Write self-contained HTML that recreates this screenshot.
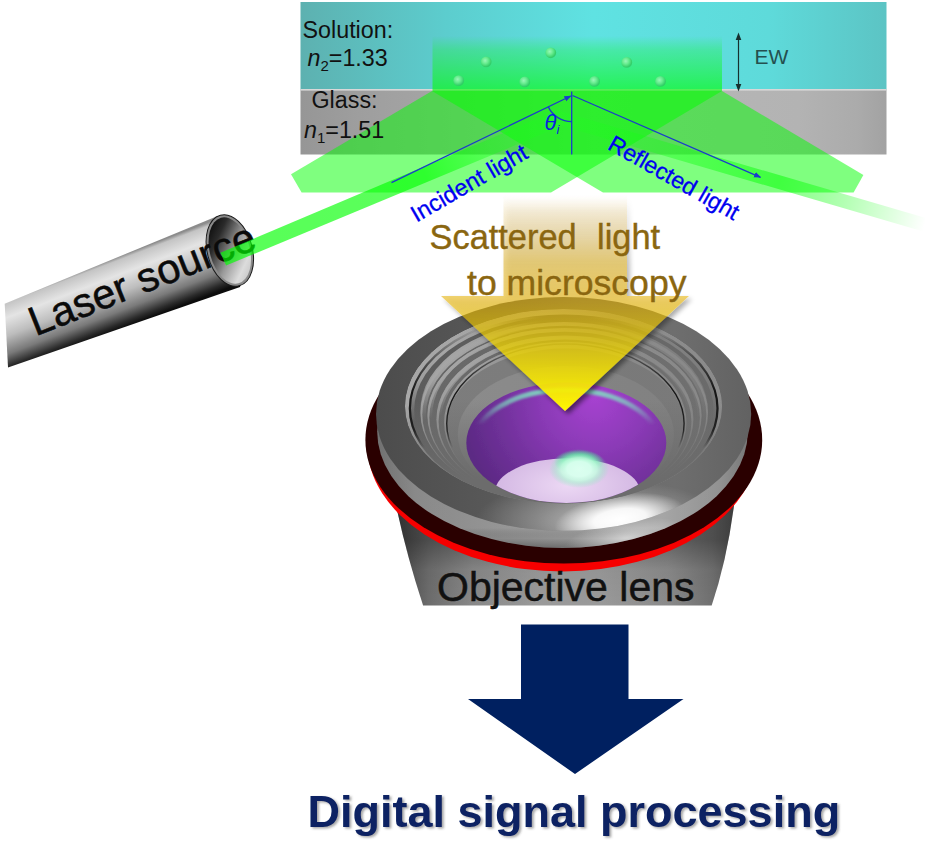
<!DOCTYPE html>
<html><head><meta charset="utf-8"><title>TIRF scattering microscopy schematic</title>
<style>
html,body{margin:0;padding:0;background:#fff;}
body{width:925px;height:841px;overflow:hidden;}
svg{display:block;}
text{font-family:"Liberation Sans",Arial,sans-serif;}
</style></head><body>
<svg width="925" height="841" viewBox="0 0 925 841">
<defs>
<linearGradient id="gSol" x1="0" x2="1" y1="0" y2="0">
<stop offset="0" stop-color="#5db1b0"/><stop offset=".25" stop-color="#5ccdce"/><stop offset=".5" stop-color="#5fe2e2"/><stop offset=".8" stop-color="#5edada"/><stop offset="1" stop-color="#5cc4c4"/>
</linearGradient>
<linearGradient id="gGlass" x1="0" x2="1" y1="0" y2="0">
<stop offset="0" stop-color="#969696"/><stop offset=".1" stop-color="#9e9e9e"/><stop offset=".3" stop-color="#a8a8a8"/><stop offset=".5" stop-color="#b8b8b8"/><stop offset=".85" stop-color="#b3b3b3"/><stop offset=".95" stop-color="#ababab"/><stop offset="1" stop-color="#a2a2a2"/>
</linearGradient>
<linearGradient id="gEW" x1="0" x2="0" y1="0" y2="1">
<stop offset="0" stop-color="#00ff00" stop-opacity="0"/><stop offset=".25" stop-color="#00ff00" stop-opacity=".25"/><stop offset="1" stop-color="#00ff00" stop-opacity=".62"/>
</linearGradient>
<linearGradient id="gInc" gradientUnits="userSpaceOnUse" x1="221" y1="259" x2="560" y2="118">
<stop offset="0" stop-color="#00ff00" stop-opacity=".66"/><stop offset=".6" stop-color="#00ff00" stop-opacity=".64"/><stop offset=".78" stop-color="#10ff10" stop-opacity=".38"/><stop offset="1" stop-color="#20ff20" stop-opacity=".25"/>
</linearGradient>
<linearGradient id="gRefl" gradientUnits="userSpaceOnUse" x1="560" y1="118" x2="925" y2="224.500">
<stop offset="0" stop-color="#20ff20" stop-opacity=".25"/><stop offset=".3" stop-color="#10ff10" stop-opacity=".38"/><stop offset=".6" stop-color="#00ff00" stop-opacity=".5"/><stop offset=".78" stop-color="#00ff00" stop-opacity=".3"/><stop offset="1" stop-color="#00ff00" stop-opacity="0"/>
</linearGradient>
<linearGradient id="gArrow" gradientUnits="userSpaceOnUse" x1="0" y1="195" x2="0" y2="411">
<stop offset="0" stop-color="#ce9400" stop-opacity="0"/><stop offset=".023" stop-color="#ce9400" stop-opacity=".03"/><stop offset=".079" stop-color="#ce9400" stop-opacity=".13"/><stop offset=".194" stop-color="#cb9600" stop-opacity=".275"/><stop offset=".31" stop-color="#d5a200" stop-opacity=".47"/><stop offset=".486" stop-color="#e5b000" stop-opacity=".57"/><stop offset=".67" stop-color="#ebcd00" stop-opacity=".72"/><stop offset=".856" stop-color="#f6e600" stop-opacity=".9"/><stop offset="1" stop-color="#fffa00" stop-opacity="1"/>
</linearGradient>
<!-- laser cylinder -->
<linearGradient id="gCyl" gradientUnits="userSpaceOnUse" x1="120" y1="256" x2="144.500" y2="320">
<stop offset="0" stop-color="#8c8c8c"/><stop offset=".05" stop-color="#c4c4c4"/><stop offset=".25" stop-color="#e4e4e4"/><stop offset=".5" stop-color="#bdbdbd"/><stop offset=".75" stop-color="#7a7a7a"/><stop offset=".92" stop-color="#2a2a2a"/><stop offset="1" stop-color="#0c0c0c"/>
</linearGradient>
<linearGradient id="gCylIn" x1=".15" y1="0" x2=".85" y2="1">
<stop offset="0" stop-color="#050505"/><stop offset=".25" stop-color="#2a2a2a"/><stop offset=".55" stop-color="#9a9a9a"/><stop offset=".8" stop-color="#dcdcdc"/><stop offset="1" stop-color="#c0c0c0"/>
</linearGradient>
<!-- lens -->
<linearGradient id="gBody" gradientUnits="userSpaceOnUse" x1="398" y1="0" x2="736" y2="0">
<stop offset="0" stop-color="#484848"/><stop offset=".09" stop-color="#6c6c6c"/><stop offset=".22" stop-color="#888888"/><stop offset=".42" stop-color="#9a9a9a"/><stop offset=".6" stop-color="#9a9a9a"/><stop offset=".8" stop-color="#8a8a8a"/><stop offset=".93" stop-color="#707070"/><stop offset="1" stop-color="#555555"/>
</linearGradient>
<linearGradient id="gBodyV" gradientUnits="userSpaceOnUse" x1="0" y1="540" x2="0" y2="606">
<stop offset="0" stop-color="#000" stop-opacity=".3"/><stop offset=".45" stop-color="#000" stop-opacity=".04"/><stop offset="1" stop-color="#000" stop-opacity=".0"/>
</linearGradient>
<linearGradient id="gSide" gradientUnits="userSpaceOnUse" x1="368" y1="0" x2="760" y2="0">
<stop offset="0" stop-color="#5a5a5a"/><stop offset=".12" stop-color="#7c7c7c"/><stop offset=".35" stop-color="#8a8a8a"/><stop offset=".55" stop-color="#969696"/><stop offset=".75" stop-color="#9c9c9c"/><stop offset=".9" stop-color="#858585"/><stop offset="1" stop-color="#5c5c5c"/>
</linearGradient>
<linearGradient id="gSideV" gradientUnits="userSpaceOnUse" x1="0" y1="528" x2="0" y2="549">
<stop offset="0" stop-color="#fff" stop-opacity=".1"/><stop offset=".5" stop-color="#000" stop-opacity="0"/><stop offset="1" stop-color="#000" stop-opacity=".28"/>
</linearGradient>
<radialGradient id="gSpec"><stop offset="0" stop-color="#fff" stop-opacity="1"/><stop offset=".4" stop-color="#fff" stop-opacity=".92"/><stop offset=".7" stop-color="#fff" stop-opacity=".45"/><stop offset="1" stop-color="#fff" stop-opacity="0"/></radialGradient>
<linearGradient id="gTop" gradientUnits="userSpaceOnUse" x1="377" y1="0" x2="750" y2="0">
<stop offset="0" stop-color="#4c4c4c"/><stop offset=".3" stop-color="#585858"/><stop offset=".55" stop-color="#6a6a6a"/><stop offset=".8" stop-color="#6e6e6e"/><stop offset="1" stop-color="#626262"/>
</linearGradient>
<linearGradient id="gBowlShade" gradientUnits="userSpaceOnUse" x1="405" y1="0" x2="722" y2="0">
<stop offset="0" stop-color="#707070" stop-opacity="0"/><stop offset=".45" stop-color="#707070" stop-opacity=".1"/><stop offset=".65" stop-color="#747474" stop-opacity=".4"/><stop offset="1" stop-color="#787878" stop-opacity=".55"/>
</linearGradient>
<linearGradient id="gBowlShadeV" gradientUnits="userSpaceOnUse" x1="0" y1="400" x2="0" y2="480">
<stop offset="0" stop-color="#6c6c6c" stop-opacity="0"/><stop offset="1" stop-color="#6c6c6c" stop-opacity="1"/>
</linearGradient>
<radialGradient id="gPurple" gradientUnits="userSpaceOnUse" cx="595" cy="398" r="135">
<stop offset="0" stop-color="#a642d0"/><stop offset=".4" stop-color="#8a3ab6"/><stop offset=".75" stop-color="#6e3098"/><stop offset="1" stop-color="#5c2a84"/>
</radialGradient>
<linearGradient id="gMint" gradientUnits="userSpaceOnUse" x1="0" y1="384" x2="0" y2="425">
<stop offset="0" stop-color="#7ee8c0" stop-opacity=".95"/><stop offset=".5" stop-color="#7ee8c0" stop-opacity=".6"/><stop offset="1" stop-color="#7ee8c0" stop-opacity="0"/>
</linearGradient>
<radialGradient id="gDiagL" gradientUnits="userSpaceOnUse" cx="0" cy="0" r="1" gradientTransform="translate(450 347) rotate(-34) scale(105 58)">
<stop offset="0" stop-color="#a8a8a8" stop-opacity="1"/><stop offset=".45" stop-color="#a6a6a6" stop-opacity=".9"/><stop offset="1" stop-color="#a0a0a0" stop-opacity="0"/>
</radialGradient>
<radialGradient id="gDiagR" gradientUnits="userSpaceOnUse" cx="0" cy="0" r="1" gradientTransform="translate(678 347) rotate(34) scale(105 58)">
<stop offset="0" stop-color="#9a9a9a" stop-opacity=".75"/><stop offset=".45" stop-color="#989898" stop-opacity=".6"/><stop offset="1" stop-color="#949494" stop-opacity="0"/>
</radialGradient>
<linearGradient id="gLine" gradientUnits="userSpaceOnUse" x1="0" y1="325" x2="0" y2="448">
<stop offset="0" stop-color="#101010" stop-opacity="0"/><stop offset=".3" stop-color="#101010" stop-opacity=".55"/><stop offset=".55" stop-color="#101010" stop-opacity=".95"/><stop offset=".85" stop-color="#101010" stop-opacity=".8"/><stop offset="1" stop-color="#101010" stop-opacity="0"/>
</linearGradient>
<radialGradient id="gPale" cx=".5" cy=".4" r=".6">
<stop offset="0" stop-color="#ecd8f4"/><stop offset="1" stop-color="#cfb2e0"/>
</radialGradient>
<radialGradient id="gHalo"><stop offset="0" stop-color="#40e890" stop-opacity=".9"/><stop offset=".6" stop-color="#40e890" stop-opacity=".7"/><stop offset="1" stop-color="#40e890" stop-opacity="0"/></radialGradient>
<radialGradient id="gGlare">
<stop offset="0" stop-color="#dcfff0"/><stop offset=".4" stop-color="#d8ffee" stop-opacity=".97"/><stop offset=".6" stop-color="#c4fde0" stop-opacity=".8"/><stop offset=".8" stop-color="#90f4c0" stop-opacity=".35"/><stop offset="1" stop-color="#70f0b0" stop-opacity="0"/>
</radialGradient>
<radialGradient id="gBead" cx=".4" cy=".38" r=".65">
<stop offset="0" stop-color="#9af7b8"/><stop offset=".45" stop-color="#66ec8e"/><stop offset=".85" stop-color="#36d06a"/><stop offset="1" stop-color="#2cc060" stop-opacity=".6"/>
</radialGradient>
<clipPath id="cWall"><ellipse cx="562.5" cy="431.5" rx="185.3" ry="116.4" /></clipPath>
<clipPath id="cBowl"><ellipse cx="563.5" cy="406.2" rx="158.5" ry="97.2" /></clipPath>
<clipPath id="cTop"><ellipse cx="563.600" cy="413.900" rx="187.600" ry="116.900"/></clipPath>
<clipPath id="cPurple"><ellipse cx="566.300" cy="442.800" rx="100" ry="60.200"/></clipPath>
<filter id="fSoft" x="-5%" y="-5%" width="110%" height="110%"><feGaussianBlur stdDeviation=".7"/></filter>
<filter id="fBlur2" x="-10%" y="-10%" width="120%" height="120%"><feGaussianBlur stdDeviation="1.300"/></filter>
<radialGradient id="gSpecB"><stop offset="0" stop-color="#fff" stop-opacity=".55"/><stop offset=".5" stop-color="#fff" stop-opacity=".25"/><stop offset="1" stop-color="#fff" stop-opacity="0"/></radialGradient>
<filter id="fDrop" x="-5%" y="-5%" width="112%" height="112%"><feGaussianBlur in="SourceAlpha" stdDeviation="2.500" result="b"/><feOffset in="b" dx="3" dy="3" result="o"/><feComposite in="o" in2="SourceAlpha" operator="out" result="s"/><feComponentTransfer in="s" result="s2"><feFuncA type="linear" slope=".55"/></feComponentTransfer><feMerge><feMergeNode in="s2"/><feMergeNode in="SourceGraphic"/></feMerge></filter>
<filter id="fTxtSh" x="-2%" y="-10%" width="104%" height="130%"><feDropShadow dx="2" dy="1.500" stdDeviation="1.200" flood-color="#404040" flood-opacity=".45"/></filter>
<filter id="fShadow" x="-10%" y="-10%" width="120%" height="130%"><feGaussianBlur stdDeviation="1.500"/></filter>
<marker id="mB" viewBox="0 0 10 10" refX="9" refY="5" markerWidth="5.5" markerHeight="5.5" orient="auto"><path d="M0,1 L10,5 L0,9 z" fill="#1a3ccc"/></marker>
</defs>

<!-- solution + glass -->
<rect x="300.500" y="2" width="586" height="88" fill="url(#gSol)"/>
<rect x="300.500" y="90" width="586" height="64.500" fill="url(#gGlass)"/>
<rect x="300.500" y="89" width="586" height="1.600" fill="#d8d8d8"/>

<!-- EW green field -->
<rect x="432.500" y="36" width="289.500" height="55" fill="url(#gEW)"/>

<!-- beads -->
<g id="beads" fill="url(#gBead)">
<circle cx="458.7" cy="80.6" r="5.400"/><circle cx="486.2" cy="61.9" r="5.400"/><circle cx="524.8" cy="81.9" r="5.400"/><circle cx="550.8" cy="52.8" r="5.400"/><circle cx="594.6" cy="81.4" r="5.400"/><circle cx="626.8" cy="62.4" r="5.400"/><circle cx="660.5" cy="81.4" r="5.400"/>
</g>

<!-- beam wedges -->
<polygon points="291,174.3 432,91 722,91 551,192.600 301.600,192.600" fill="#00ff00" fill-opacity=".5"/>
<polygon points="863.400,175 722,91 432,91 603,192.600 853.600,192.600" fill="#00ff00" fill-opacity=".5"/>

<!-- laser cylinder -->
<g id="laser">
<polygon points="4.700,303.700 217,216.300 246,262 240,287 8,367.500" fill="url(#gCyl)"/>
<ellipse cx="0" cy="0" rx="22.500" ry="36.500" transform="translate(229.800,250.500) rotate(-15)" fill="#8a8a8a" stroke="#1a1a1a" stroke-width="1"/>
<ellipse cx="0" cy="0" rx="20" ry="34" transform="translate(229.800,250.500) rotate(-15)" fill="url(#gCylIn)"/>
<text transform="translate(35.600,336.500) rotate(-21.600)" font-size="41.500" fill="#0a0a0a" stroke="#0a0a0a" stroke-width=".5">Laser source</text>
</g>

<!-- laser beam -->
<polygon points="220.400,252.700 560,109.100 560,126.600 226.100,265.500" fill="url(#gInc)"/>
<polygon points="560,111.100 925,217.700 925,231.900 560,125.300" fill="url(#gRefl)"/>

<!-- blue arrows -->
<g stroke="#1a3ccc" stroke-width="1.300" fill="none">
<line x1="391.500" y1="182.600" x2="570.800" y2="96" marker-end="url(#mB)"/>
<line x1="572.500" y1="95.500" x2="760.500" y2="177.300" marker-end="url(#mB)"/>
<line x1="571.700" y1="91.500" x2="571.700" y2="154.500"/>
<path d="M548.300,106.900 A26,26 0 0 0 571.700,121.600"/>
</g>
<text x="544.500" y="129.500" font-size="22" font-style="italic" fill="#0a1ee0">θ<tspan font-size="13" dy="4">i</tspan></text>
<text transform="translate(416.500,222.800) rotate(-30.100)" font-size="23.300" fill="#0000f0" stroke="#0000f0" stroke-width=".3">Incident light</text>
<text transform="translate(606.400,148.500) rotate(29.600)" font-size="23.100" fill="#0000f0" stroke="#0000f0" stroke-width=".3">Reflected light</text>

<!-- labels -->
<text x="302.500" y="38.300" font-size="23.300" fill="#111">Solution:</text>
<text x="307.500" y="65.700" font-size="23.300" fill="#111"><tspan font-style="italic">n</tspan><tspan font-size="15" dy="5">2</tspan><tspan dy="-5">=1.33</tspan></text>
<text x="311.500" y="108" font-size="23.300" fill="#111">Glass:</text>
<text x="304" y="137.500" font-size="23.300" fill="#111"><tspan font-style="italic">n</tspan><tspan font-size="15" dy="5">1</tspan><tspan dy="-5">=1.51</tspan></text>
<g stroke="#16302f" stroke-width="1.200" fill="#16302f">
<line x1="738.500" y1="38" x2="738.500" y2="86"/>
<path d="M738.500,32.500 L741.300,40 L735.700,40 z" stroke="none"/><path d="M738.500,91.500 L741.300,84 L735.700,84 z" stroke="none"/>
</g>
<text x="754.500" y="63.500" font-size="21" fill="#24504f">EW</text>


<g id="lens">
<!-- body -->
<path d="M397,510 Q408,560 423.1,605.5 L711.7,605.5 Q727,560 734.2,504 z" fill="url(#gBody)"/>
<path d="M397,510 Q408,560 423.1,605.5 L711.7,605.5 Q727,560 734.2,504 z" fill="url(#gBodyV)"/>
<!-- red + dark ring -->
<ellipse cx="562.6" cy="444.8" rx="195.3" ry="126.7" fill="#f60000"/>
<ellipse cx="563.8" cy="439.9" rx="198.4" ry="123.7" fill="#2a0000"/>
<!-- flange side wall -->
<ellipse cx="562.5" cy="431.5" rx="185.3" ry="116.4" fill="url(#gSide)"/>
<ellipse cx="562.5" cy="431.5" rx="185.3" ry="116.4" fill="url(#gSideV)"/>
<g clip-path="url(#cWall)"><ellipse cx="0" cy="0" rx="1" ry="1" transform="translate(626,538) rotate(-9) scale(62,18)" fill="url(#gSpecB)"/></g>
<!-- flange top -->
<ellipse cx="563.6" cy="413.9" rx="187.6" ry="116.9" fill="url(#gTop)"/>
<g clip-path="url(#cTop)">
<ellipse cx="0" cy="0" rx="1" ry="1" transform="translate(600,521) scale(125,42)" fill="url(#gSpecB)"/>
<ellipse cx="0" cy="0" rx="1" ry="1" transform="translate(620,519) rotate(-8) scale(66,25)" fill="url(#gSpec)"/>
</g>
<!-- bowl -->
<g clip-path="url(#cBowl)">
<ellipse cx="563.5" cy="406.2" rx="158.5" ry="97.2" fill="#b0b0b0"/>
<ellipse cx="563.7" cy="408.9" rx="155" ry="94.5" fill="#5c5c5c"/>
<ellipse cx="564.2" cy="412.7" rx="143.8" ry="90.7" fill="#a2a2a2"/>
<ellipse cx="564.3" cy="414.6" rx="142" ry="88.8" fill="#666666"/>
<ellipse cx="564.5" cy="415.6" rx="137.1" ry="87.7" fill="#a0a0a0"/>
<ellipse cx="564.6" cy="417.5" rx="135.3" ry="85.8" fill="#686868"/>
<ellipse cx="564.9" cy="419.3" rx="128.5" ry="83.9" fill="#9e9e9e"/>
<ellipse cx="565" cy="421.4" rx="126.4" ry="81.8" fill="#6a6a6a"/>
<ellipse cx="565.3" cy="422.5" rx="121.2" ry="80.7" fill="#9a9a9a"/>
<ellipse cx="565.4" cy="425.8" rx="119.2" ry="77.4" fill="#7d7d7d"/>
<ellipse cx="565.9" cy="434.5" rx="108.1" ry="68.6" fill="#8c8c8c"/>
<path d="M405,406.2 a158.5,97.2 0 1,0 317,0 a158.5,97.2 0 1,0 -317,0 z M414.2,410.1 a149.7,93.4 0 1,0 299.4,0 a149.7,93.4 0 1,0 -299.4,0 z M420.4,412.7 a143.8,90.7 0 1,0 287.5,0 a143.8,90.7 0 1,0 -287.5,0 z M425.8,414.9 a138.6,88.4 0 1,0 277.2,0 a138.6,88.4 0 1,0 -277.2,0 z M427.4,415.6 a137.1,87.7 0 1,0 274.2,0 a137.1,87.7 0 1,0 -274.2,0 z M432.3,417.6 a132.5,85.7 0 1,0 264.9,0 a132.5,85.7 0 1,0 -264.9,0 z M436.4,419.3 a128.5,83.9 0 1,0 257.1,0 a128.5,83.9 0 1,0 -257.1,0 z M441,421.2 a124.1,82 0 1,0 248.2,0 a124.1,82 0 1,0 -248.2,0 z M444,422.5 a121.2,80.7 0 1,0 242.5,0 a121.2,80.7 0 1,0 -242.5,0 z M447.3,424.2 a118.1,79 0 1,0 236.3,0 a118.1,79 0 1,0 -236.3,0 z" fill-rule="evenodd" fill="url(#gDiagL)"/>
<path d="M405,406.2 a158.5,97.2 0 1,0 317,0 a158.5,97.2 0 1,0 -317,0 z M414.2,410.1 a149.7,93.4 0 1,0 299.4,0 a149.7,93.4 0 1,0 -299.4,0 z M420.4,412.7 a143.8,90.7 0 1,0 287.5,0 a143.8,90.7 0 1,0 -287.5,0 z M425.8,414.9 a138.6,88.4 0 1,0 277.2,0 a138.6,88.4 0 1,0 -277.2,0 z M427.4,415.6 a137.1,87.7 0 1,0 274.2,0 a137.1,87.7 0 1,0 -274.2,0 z M432.3,417.6 a132.5,85.7 0 1,0 264.9,0 a132.5,85.7 0 1,0 -264.9,0 z M436.4,419.3 a128.5,83.9 0 1,0 257.1,0 a128.5,83.9 0 1,0 -257.1,0 z M441,421.2 a124.1,82 0 1,0 248.2,0 a124.1,82 0 1,0 -248.2,0 z M444,422.5 a121.2,80.7 0 1,0 242.5,0 a121.2,80.7 0 1,0 -242.5,0 z M447.3,424.2 a118.1,79 0 1,0 236.3,0 a118.1,79 0 1,0 -236.3,0 z" fill-rule="evenodd" fill="url(#gDiagR)"/>
<rect x="400" y="300" width="330" height="210" fill="url(#gBowlShade)"/>
<rect x="400" y="300" width="330" height="210" fill="url(#gBowlShadeV)"/>
<ellipse cx="563.7" cy="408.3" rx="153.8" ry="95.2" fill="none" stroke="url(#gLine)" stroke-width="2.2"/>
<ellipse cx="565.4" cy="423.6" rx="118.7" ry="79.6" fill="none" stroke="url(#gLine)" stroke-width="1.4"/>
</g>
<!-- purple lens -->
<g filter="url(#fSoft)">
<ellipse cx="566.3" cy="442.8" rx="100" ry="60.2" fill="url(#gPurple)"/>
<g clip-path="url(#cPurple)">
<ellipse cx="566.3" cy="444.8" rx="93" ry="54.7" fill="none" stroke="url(#gMint)" stroke-width="5" filter="url(#fBlur2)"/>
<ellipse cx="567.5" cy="492" rx="72.5" ry="33.7" fill="url(#gPale)"/>
<ellipse cx="579" cy="462" rx="25" ry="13" fill="url(#gHalo)"/>
<ellipse cx="579" cy="469" rx="30" ry="19" fill="url(#gGlare)"/>
</g>
</g>
</g>


<!-- scattered arrow -->
<polygon points="503.500,195 627,195 627,296 689,296 565,411 441,296 503.500,296" fill="url(#gArrow)" filter="url(#fDrop)"/>
<text x="429.500" y="248.500" font-size="34.400" fill="#8a6610" stroke="#8a6610" stroke-width=".4">Scattered</text>
<text x="597" y="248.500" font-size="34.400" fill="#8a6610" stroke="#8a6610" stroke-width=".4">light</text>
<text x="467" y="294.500" font-size="35.600" fill="#8a6610" stroke="#8a6610" stroke-width=".4">to microscopy</text>

<text x="437" y="601" font-size="41" fill="#111" stroke="#111" stroke-width=".5">Objective lens</text>

<!-- big arrow -->
<polygon points="521,624.500 628.500,624.500 628.500,699 683.500,699 575,774 468,699 521,699" fill="#002060"/>
<text x="307.500" y="826.500" font-size="45" font-weight="bold" fill="#0c2464" filter="url(#fTxtSh)">Digital signal processing</text>
</svg>
</body></html>
